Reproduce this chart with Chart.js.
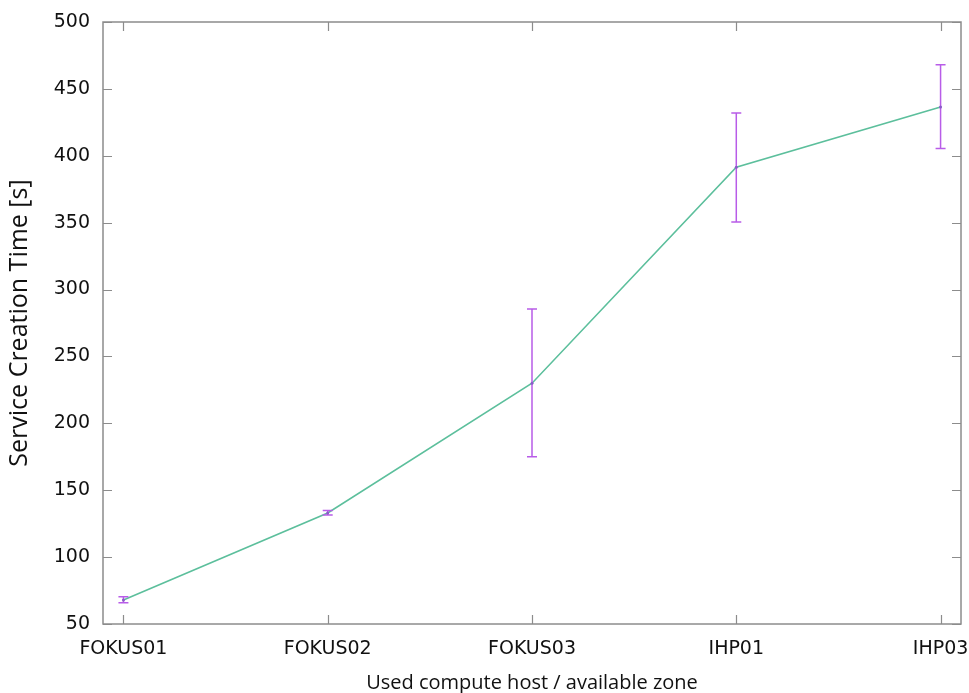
<!DOCTYPE html>
<html>
<head>
<meta charset="utf-8">
<script src="https://cdn.jsdelivr.net/npm/chart.js@4/dist/chart.umd.min.js"></script>
<style>
  html, body { margin: 0; padding: 0; background: #fff; }
  #wrap { width: 969px; height: 693px; }
</style>
</head>
<body>
<div id="wrap"><canvas id="chart" width="969" height="693"></canvas></div>
<script>
  // hosts on the x axis
  const hosts = ['FOKUS01', 'FOKUS02', 'FOKUS03', 'IHP01', 'IHP03'];
  // mean creation time and error bar ends, in seconds
  const meanTime = [68, 133, 230, 391.5, 436.5];
  const errLow  = [65.8, 131.5, 175, 350.5, 405.5];
  const errHigh = [70.3, 134.8, 285.5, 432, 468];
  const yTicks = [50, 100, 150, 200, 250, 300, 350, 400, 450, 500];

  const frameColor = '#8c8c8c';
  const tickLen = 9;

  // gnuplot-like frame with inward ticks on all four sides
  const framePlugin = {
    id: 'frame',
    afterDraw(chart) {
      const {ctx, chartArea: a, scales: {x, y}} = chart;
      ctx.save();
      ctx.strokeStyle = frameColor;
      ctx.lineWidth = 1.5;
      ctx.strokeRect(a.left, a.top, a.right - a.left, a.bottom - a.top);
      ctx.beginPath();
      hosts.forEach((h, i) => {
        const px = Math.round(x.getPixelForValue(i)) + 0.5;
        ctx.moveTo(px, a.bottom); ctx.lineTo(px, a.bottom - tickLen);
        ctx.moveTo(px, a.top); ctx.lineTo(px, a.top + tickLen);
      });
      yTicks.forEach(v => {
        const py = Math.round(y.getPixelForValue(v)) + 0.5;
        ctx.moveTo(a.left, py); ctx.lineTo(a.left + tickLen, py);
        ctx.moveTo(a.right, py); ctx.lineTo(a.right - tickLen, py);
      });
      ctx.lineWidth = 1.2;
      ctx.stroke();
      ctx.restore();
    }
  };

  // error bars drawn through the scales
  const errorBars = {
    id: 'errorBars',
    afterDatasetsDraw(chart) {
      const {ctx, scales: {x, y}} = chart;
      ctx.save();
      ctx.strokeStyle = '#b85ce8';
      ctx.lineWidth = 1.5;
      ctx.beginPath();
      hosts.forEach((h, i) => {
        const px = x.getPixelForValue(i);
        const lo = y.getPixelForValue(errLow[i]);
        const hi = y.getPixelForValue(errHigh[i]);
        ctx.moveTo(px, lo); ctx.lineTo(px, hi);
        ctx.moveTo(px - 5, lo); ctx.lineTo(px + 5, lo);
        ctx.moveTo(px - 5, hi); ctx.lineTo(px + 5, hi);
      });
      ctx.stroke();
      ctx.fillStyle = '#8a5cc8';
      hosts.forEach((h, i) => {
        ctx.beginPath();
        ctx.arc(x.getPixelForValue(i), y.getPixelForValue(meanTime[i]), 1.5, 0, Math.PI * 2);
        ctx.fill();
      });
      ctx.restore();
    }
  };

  new Chart(document.getElementById('chart').getContext('2d'), {
    type: 'line',
    data: {
      datasets: [{
        data: meanTime.map((v, i) => ({x: i, y: v})),
        borderColor: '#5cbf9c',
        borderWidth: 1.6,
        pointRadius: 0,
        tension: 0,
        fill: false
      }]
    },
    options: {
      responsive: false,
      animation: false,
      layout: { padding: { top: 22, right: 8, left: 0, bottom: 0 } },
      plugins: { legend: { display: false }, tooltip: { enabled: false } },
      scales: {
        x: {
          type: 'linear', min: -0.1, max: 4.1,
          afterBuildTicks: s => { s.ticks = hosts.map((h, i) => ({value: i})); },
          afterFit: s => { s.height = 69; s.paddingLeft = 0; s.paddingRight = 0; },
          grid: { display: false, drawTicks: false },
          border: { display: false },
          ticks: {
            padding: 14, color: '#111',
            font: { family: 'DejaVu Sans', size: 19 },
            callback: v => hosts[v],
            maxRotation: 0, autoSkip: false
          },
          title: {
            display: true, text: 'Used compute host / available zone', color: '#111',
            font: { family: 'Open Sans', size: 20, lineHeight: 1.0 },
            padding: { top: 0, bottom: 0 }
          }
        },
        y: {
          min: 50, max: 500,
          afterBuildTicks: s => { s.ticks = yTicks.map(v => ({value: v})); },
          afterFit: s => { s.width = 103; s.paddingTop = 0; s.paddingBottom = 0; },
          grid: { display: false, drawTicks: false },
          border: { display: false },
          ticks: {
            padding: 13, color: '#111',
            font: { family: 'DejaVu Sans', size: 19 }
          },
          title: {
            display: true, text: 'Service Creation Time [s]', color: '#111',
            font: { family: 'Open Sans', size: 25, lineHeight: 1.0 },
            padding: { top: 7, bottom: 0 }
          }
        }
      }
    },
    plugins: [framePlugin, errorBars]
  });
</script>
</body>
</html>
